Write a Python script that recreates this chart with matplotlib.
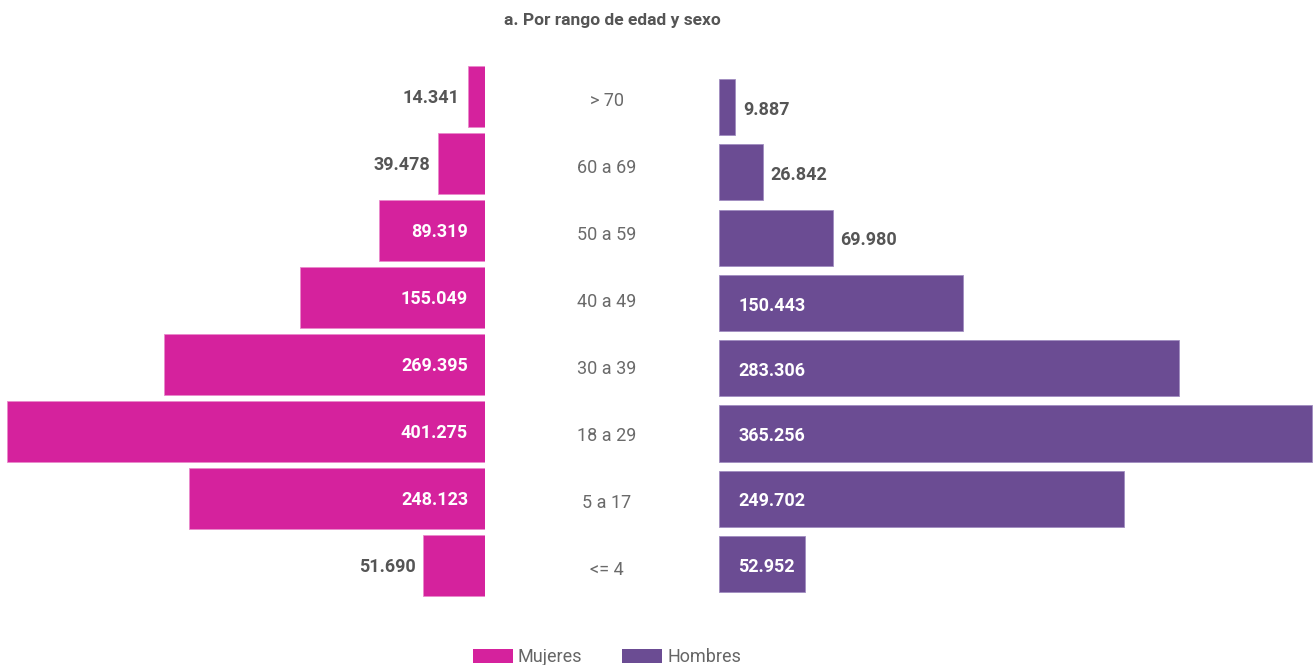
#!/usr/bin/env python3
'''
Poblacion por rango de edad y sexo (piramide)
'''

import matplotlib
matplotlib.use('Agg')
import matplotlib.pyplot as plt
import matplotlib.transforms as mtransforms
from matplotlib.patches import Patch

# data, top to bottom
age_groups = ['> 70', '60 a 69', '50 a 59', '40 a 49', '30 a 39', '18 a 29', '5 a 17', '<= 4']
mujeres = [14341, 39478, 89319, 155049, 269395, 401275, 248123, 51690]
hombres = [9887, 26842, 69980, 150443, 283306, 365256, 249702, 52952]

# label placement (inside the bar or next to it)
inside_m = [False, False, True, True, True, True, True, False]
inside_h = [False, False, False, True, True, True, True, True]

C_M = '#D5229D'
C_H = '#6B4C93'
C_TXT = '#555555'
C_CAT = '#6a6a6a'

plt.rcParams['font.family'] = ['Roboto', 'DejaVu Sans']

W, H = 1314, 665
fig = plt.figure(figsize=(W / 100, H / 100), dpi=100)


def fmt(v):
    return f'{v:,}'.replace(',', '.')


def shift(px):
    return mtransforms.ScaledTranslation(px / 100, 0, fig.dpi_scale_trans)


# left axes: women, bars grow to the left from x=485px
ax_l = fig.add_axes([0, 0, 485 / W, 1])
ax_l.set_xlim(485 * 839.5, 0)
ax_l.set_ylim((H - 96.5) / 67, -96.5 / 67)
ypos = list(range(len(age_groups)))
ax_l.barh(ypos, mujeres, height=0.91, color=C_M, edgecolor='#E98ACB', linewidth=0.6)

# right axes: men, bars grow to the right from x=719px
ax_r = fig.add_axes([719 / W, 0, (W - 719) / W, 1])
ax_r.set_xlim(0, (W - 719) * 616)
ax_r.set_ylim((H - 107) / 65.3, -107 / 65.3)
ax_r.barh(ypos, hombres, height=0.86, color=C_H, edgecolor='#A08DC0', linewidth=0.6)

for ax in (ax_l, ax_r):
    ax.axis('off')

# value labels
for y, v, inside in zip(ypos, mujeres, inside_m):
    if inside:
        ax_l.text(0, y + 0.02, fmt(v), ha='right', va='center', color='white',
                  fontsize=13, fontweight='bold', transform=ax_l.transData + shift(-17))
    else:
        ax_l.text(v, y + 0.02, fmt(v), ha='right', va='center', color=C_TXT,
                  fontsize=13, fontweight='bold', transform=ax_l.transData + shift(-8))

for y, v, inside in zip(ypos, hombres, inside_h):
    if inside:
        ax_r.text(0, y + 0.04, fmt(v), ha='left', va='center', color='white',
                  fontsize=13, fontweight='bold', transform=ax_r.transData + shift(19))
    else:
        ax_r.text(v, y + 0.04, fmt(v), ha='left', va='center', color=C_TXT,
                  fontsize=13, fontweight='bold', transform=ax_r.transData + shift(8))

# age group labels in the middle
trans_c = mtransforms.blended_transform_factory(fig.transFigure, ax_l.transData)
for y, lab in zip(ypos, age_groups):
    ax_l.text(607 / W, y + 0.06, lab, ha='center', va='center', color=C_CAT,
              fontsize=13, fontweight='normal', transform=trans_c, clip_on=False)

fig.text(612 / W, 1 - 20 / H, 'a. Por rango de edad y sexo', ha='center', va='center',
         color=C_TXT, fontsize=12.5, fontweight='bold')

handles = [Patch(facecolor=C_M, label='Mujeres'), Patch(facecolor=C_H, label='Hombres')]
leg = fig.legend(handles=handles, loc='center', bbox_to_anchor=(607 / W, 8 / H), ncol=2,
                 frameon=False, fontsize=13, handlelength=2.2, handleheight=0.8,
                 handletextpad=0.3, columnspacing=2.2, borderpad=0)
for t in leg.get_texts():
    t.set_color('#666666')

fig.savefig('out.png', dpi=100)
